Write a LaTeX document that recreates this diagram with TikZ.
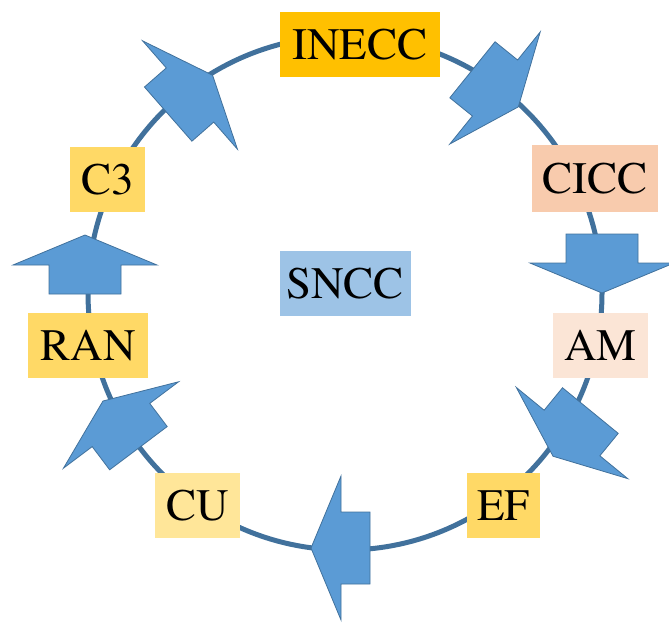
\documentclass[tikz,border=0pt]{standalone}
\definecolor{ring}{HTML}{41719C}
\definecolor{arrowfill}{HTML}{5B9BD5}
\definecolor{gold}{HTML}{FFC000}
\definecolor{peach}{HTML}{F8CBAD}
\definecolor{paleskin}{HTML}{FBE5D6}
\definecolor{sand}{HTML}{FFD966}
\definecolor{cream}{HTML}{FFE699}
\definecolor{sky}{HTML}{9DC3E6}
\tikzset{
  tag/.style={inner sep=0pt, minimum height=65pt, text=black,
    font=\fontencoding{T1}\fontfamily{ptm}\fontsize{45}{52}\selectfont},
  barrow/.pic={
    \draw[fill=arrowfill, draw=ring, line width=0.8pt, line join=miter]
      (-29,36) -- (0,36) -- (0,72) -- (30,0) -- (0,-72) -- (0,-36)
      -- (-29,-36) -- cycle;
  }
}
\begin{document}
\begin{tikzpicture}[x=1pt, y=-1pt]
  \useasboundingbox (0,0) rectangle (669,622);
  % the cycle ring
  \draw[ring, line width=5pt] (345,293) circle[radius=257pt];
  % stages on the ring
  \node[tag, fill=gold,     minimum width=160pt] (inecc) at (360,44.5)  {INECC};
  \node[tag, fill=peach,    minimum width=126pt, minimum height=67pt] (cicc) at (595,178.5) {CICC};
  \node[tag, fill=paleskin, minimum width=95pt]  (am)    at (600.5,345.5) {AM};
  \node[tag, fill=sand,     minimum width=73pt]  (ef)    at (503.5,505.5) {EF};
  \node[tag, fill=cream,    minimum width=85pt]  (cu)    at (197.5,505.5) {CU};
  \node[tag, fill=sand,     minimum width=120pt] (ran)   at (88,345)      {RAN};
  \node[tag, fill=sand,     minimum width=75pt]  (c3)    at (107.5,179.5) {C3};
  % centre
  \node[tag, fill=sky,      minimum width=131pt] (sncc)  at (345,283)     {SNCC};
  % clockwise block arrows
  \pic[rotate=-38.9]  at (495,88)  {barrow};
  \pic[rotate=-90]    at (602,263) {barrow};
  \pic[rotate=-129.3] at (572,433) {barrow};
  \pic[rotate=180]    at (341,548) {barrow};
  \pic[rotate=126.9]  at (121,425) {barrow};
  \pic[rotate=90]     at (85,265)  {barrow};
  \pic[rotate=41.2]   at (190,95)  {barrow};
\end{tikzpicture}
\end{document}
